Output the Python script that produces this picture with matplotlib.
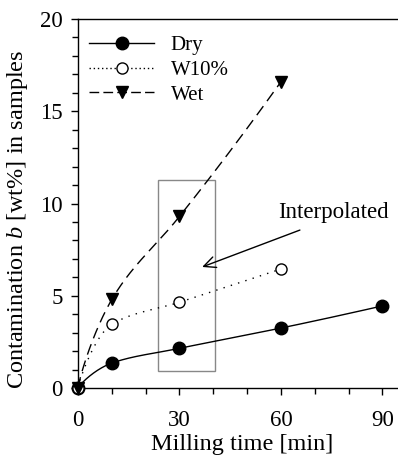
import matplotlib
matplotlib.use('Agg')
import matplotlib.pyplot as plt
import numpy as np
from matplotlib.patches import Rectangle

plt.rcParams['font.family'] = ['Liberation Serif', 'DejaVu Serif']
plt.rcParams['mathtext.fontset'] = 'custom'
plt.rcParams['mathtext.it'] = 'Liberation Serif:italic'
plt.rcParams['mathtext.rm'] = 'Liberation Serif'

# data
t_dry = [0, 10, 30, 60, 90]
c_dry = [0, 1.35, 2.15, 3.25, 4.45]
t_w10 = [0, 10, 30, 60]
c_w10 = [0, 3.45, 4.65, 6.45]
t_wet = [0, 10, 30, 60]
c_wet = [0, 4.8, 9.3, 16.6]

x_ticks = [0, 30, 60, 90]
y_ticks = [0, 5, 10, 15, 20]


def smooth(x, y, n=300):
    # monotone cubic (pchip style) through the points
    s = np.asarray(x, float) ** 0.85
    y = np.asarray(y, float)
    h = np.diff(s)
    d = np.diff(y) / h
    m = np.zeros_like(y)
    m[0] = ((2 * h[0] + h[1]) * d[0] - h[0] * d[1]) / (h[0] + h[1])
    m[-1] = ((2 * h[-1] + h[-2]) * d[-1] - h[-1] * d[-2]) / (h[-1] + h[-2])
    for i in range(1, len(y) - 1):
        if d[i - 1] * d[i] > 0:
            w1 = 2 * h[i] + h[i - 1]
            w2 = h[i] + 2 * h[i - 1]
            m[i] = (w1 + w2) / (w1 / d[i - 1] + w2 / d[i])
    ss = np.linspace(s[0], s[-1], n)
    idx = np.clip(np.searchsorted(s, ss) - 1, 0, len(h) - 1)
    u = (ss - s[idx]) / h[idx]
    h00 = 2 * u**3 - 3 * u**2 + 1
    h10 = u**3 - 2 * u**2 + u
    h01 = -2 * u**3 + 3 * u**2
    h11 = u**3 - u**2
    yy = h00 * y[idx] + h10 * h[idx] * m[idx] + h01 * y[idx + 1] + h11 * h[idx] * m[idx + 1]
    return ss ** (1 / 0.85), yy


fig = plt.figure(figsize=(3.98, 4.59), dpi=100)
ax = fig.add_axes([78 / 398, 71 / 459, 320 / 398, 369 / 459])

lw = 1.0
xs, ys = smooth(t_dry, c_dry)
ax.plot(xs, ys, color='black', lw=lw, ls='-')
ax.plot(t_dry, c_dry, ls='none', marker='o', ms=9, mfc='black', mec='black',
        clip_on=False, zorder=4)
xs, ys = smooth(t_w10, c_w10)
ax.plot(xs, ys, color='black', lw=lw, ls=(0, (1, 4.5)))
ax.plot(t_w10, c_w10, ls='none', marker='o', ms=8, mfc='white', mec='black', mew=1,
        clip_on=False, zorder=4)
xs, ys = smooth(t_wet, c_wet)
ax.plot(xs, ys, color='black', lw=lw, ls=(0, (8, 4.5)))
ax.plot(t_wet, c_wet, ls='none', marker='v', ms=9, mfc='black', mec='black',
        clip_on=False, zorder=4)

# legend handles
ax.plot([], [], color='black', lw=lw, marker='o', ms=9, label='Dry')
ax.plot([], [], color='black', lw=lw, ls=(0, (1, 2)), marker='o', ms=8,
        mfc='white', mec='black', label='W10%')
ax.plot([], [], color='black', lw=lw, ls=(0, (7, 3)), marker='v', ms=9, label='Wet')
handles, labels = ax.get_legend_handles_labels()
ax.legend(handles, labels, loc='upper left', frameon=False, fontsize=15,
          handlelength=3.1, handletextpad=0.8, labelspacing=0.25,
          borderaxespad=0.3, bbox_to_anchor=(-0.01, 0.995))

ax.add_patch(Rectangle((23.6, 0.92), 16.9, 10.35, fill=False,
                       edgecolor='#888888', lw=1.0, zorder=1))
ax.text(75.5, 9.5, 'Interpolated', fontsize=16.5, ha='center', va='center')
ax.annotate('', xy=(36.7, 6.56), xytext=(65.6, 8.56),
            arrowprops=dict(arrowstyle='->,head_length=0.85,head_width=0.4',
                            lw=1.0, color='black', shrinkA=0, shrinkB=0))

ax.set_xlim(0, 94.6)
ax.set_ylim(0, 20)
ax.set_xticks(x_ticks)
ax.set_yticks(y_ticks)
ax.set_xticks(np.arange(0, 95, 10), minor=True)
ax.set_yticks(np.arange(0, 20, 1), minor=True)
ax.tick_params(which='both', direction='out', labelsize=16.5, width=1)
ax.tick_params(which='major', length=5)
ax.tick_params(which='minor', length=4)
ax.tick_params(axis='x', which='major', pad=11)
ax.tick_params(axis='y', which='major', pad=6)
ax.spines['right'].set_visible(False)
for sp in ['left', 'bottom', 'top']:
    ax.spines[sp].set_linewidth(1.0)

ax.set_xlabel('Milling time [min]', fontsize=17.5)
ax.set_ylabel('Contamination $b$ [wt%] in samples', fontsize=17.5)
ax.xaxis.set_label_coords(0.5125, -0.125)
ax.yaxis.set_label_coords(-0.15, 0.458)

fig.savefig('out.png', dpi=100)
